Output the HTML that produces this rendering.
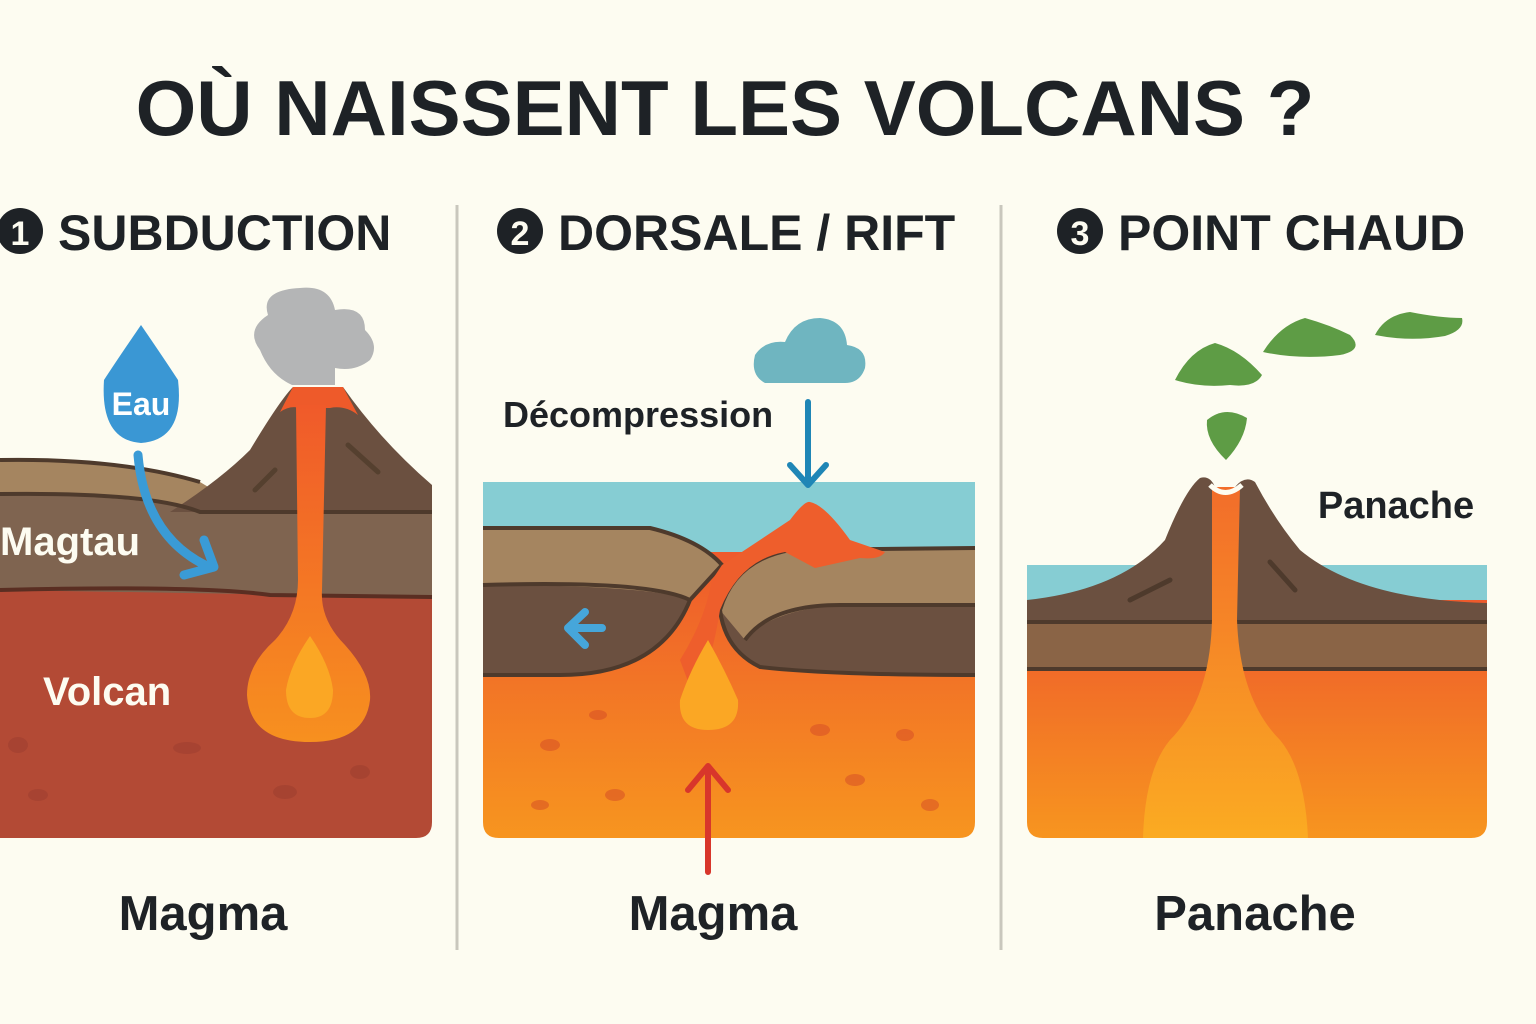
<!DOCTYPE html>
<html><head><meta charset="utf-8"><style>
html,body{margin:0;padding:0;background:#fdfcf1}
svg{display:block}
text{font-family:"Liberation Sans","DejaVu Sans",sans-serif;font-weight:bold}
</style></head><body>
<svg width="1536" height="1024" viewBox="0 0 1536 1024" xmlns="http://www.w3.org/2000/svg">
<defs>
<linearGradient id="og" x1="0" y1="0" x2="0" y2="1"><stop offset="0" stop-color="#ee5a2c"/><stop offset="1" stop-color="#f7951f"/></linearGradient>
<linearGradient id="pl" x1="0" y1="0" x2="0" y2="1"><stop offset="0" stop-color="#f26d2a"/><stop offset="1" stop-color="#fbab22"/></linearGradient>
<linearGradient id="cd" x1="0" y1="0" x2="0" y2="1"><stop offset="0" stop-color="#f05a2a"/><stop offset="1" stop-color="#f7901f"/></linearGradient>
</defs>
<rect width="1536" height="1024" fill="#fdfcf1"/>
<text x="725" y="135" font-size="78" text-anchor="middle" fill="#1e2226">OÙ NAISSENT LES VOLCANS ?</text>
<line x1="457" y1="205" x2="457" y2="950" stroke="#c9c7bd" stroke-width="3"/>
<line x1="1001" y1="205" x2="1001" y2="950" stroke="#c9c7bd" stroke-width="3"/>
<circle cx="20" cy="231" r="23" fill="#1e2226"/><text x="20" y="245" font-size="34" fill="#fdfcf1" text-anchor="middle">1</text>
<text x="58" y="250" font-size="50" fill="#1e2226">SUBDUCTION</text>
<circle cx="520" cy="231" r="23" fill="#1e2226"/><text x="520" y="245" font-size="34" fill="#fdfcf1" text-anchor="middle">2</text>
<text x="558" y="250" font-size="50" fill="#1e2226">DORSALE / RIFT</text>
<circle cx="1080" cy="231" r="23" fill="#1e2226"/><text x="1080" y="245" font-size="34" fill="#fdfcf1" text-anchor="middle">3</text>
<text x="1118" y="250" font-size="50" fill="#1e2226">POINT CHAUD</text>

<path d="M0 590 L432 595 L432 822 Q432 838 416 838 L0 838Z" fill="#b34a35"/>
<path d="M0 494 Q150 492 200 510 L432 512 L432 597 L0 590Z" fill="#7f6450"/>
<path d="M0 460 Q120 458 200 482 L230 500 L200 512 Q150 496 0 494Z" fill="#a58560"/>
<path d="M170 512 Q220 480 250 450 Q280 400 293 387 L343 387 Q380 440 432 485 L432 512Z" fill="#6b5040"/>
<path d="M0 460 Q120 458 200 482" stroke="#4e3a2c" stroke-width="4" fill="none"/>
<path d="M0 494 Q150 492 200 512 L432 512" stroke="#4e3a2c" stroke-width="4" fill="none"/>
<path d="M0 590 Q200 585 270 595 L432 597" stroke="#5a2e22" stroke-width="4" fill="none"/>
<path d="M255 490 L275 470 M348 445 L378 472" stroke="#55402f" stroke-width="5" stroke-linecap="round"/>
<path d="M280 412 L293 387 L343 387 L358 415 Q345 405 330 408 L300 408 Q290 405 280 412Z" fill="#ee5a2a"/>
<path d="M296 405 L326 405 L322 590 Q320 620 345 645 Q372 675 370 700 Q365 742 310 742 Q250 742 247 695 Q247 665 275 640 Q298 615 298 580Z" fill="url(#cd)"/>
<path d="M310 636 Q330 665 333 690 Q333 718 310 718 Q286 718 286 690 Q290 665 310 636Z" fill="#fba724"/>
<g fill="#9f4030" opacity=".6"><ellipse cx="18" cy="745" rx="10" ry="8"/><ellipse cx="187" cy="748" rx="14" ry="6"/><ellipse cx="285" cy="792" rx="12" ry="7"/><ellipse cx="360" cy="772" rx="10" ry="7"/><ellipse cx="38" cy="795" rx="10" ry="6"/></g>
<path d="M292 385 Q270 375 260 350 Q245 330 268 315 Q260 290 300 288 Q330 285 335 310 Q365 305 365 330 Q380 345 370 360 Q355 372 335 368 L335 385Z" fill="#b4b5b6"/>
<path d="M141 325 Q165 360 178 380 Q185 440 141 443 Q100 440 104 380 Q117 360 141 325Z" fill="#3a97d4"/>
<text x="141" y="415" font-size="32" fill="#fff" text-anchor="middle">Eau</text>
<path d="M138 455 Q145 535 205 565" stroke="#3a9bd6" stroke-width="9" fill="none" stroke-linecap="round"/>
<path d="M184 575 L214 567 L204 540" stroke="#3a9bd6" stroke-width="9" fill="none" stroke-linecap="round" stroke-linejoin="round"/>
<text x="0" y="555" font-size="40" fill="#fdfcf1">Magtau</text>
<text x="43" y="705" font-size="40" fill="#fdfcf1">Volcan</text>
<text x="203" y="930" font-size="49" fill="#1e2226" text-anchor="middle">Magma</text>

<rect x="483" y="482" width="492" height="70" fill="#86cdd3"/>
<path d="M483 552 L975 552 L975 822 Q975 838 959 838 L499 838 Q483 838 483 822Z" fill="url(#og)"/>
<path d="M483 528 L650 528 Q700 540 722 565 L690 600 Q660 675 560 675 L483 675Z" fill="#6b5040"/>
<path d="M483 528 L650 528 Q700 540 722 565 L690 600 Q650 585 483 585Z" fill="#a58560"/>
<path d="M975 548 L790 550 Q735 560 720 610 Q725 650 760 667 Q830 675 975 675Z" fill="#6b5040"/>
<path d="M975 548 L790 550 Q735 560 720 610 L745 640 Q770 610 840 605 L975 605Z" fill="#a58560"/>
<path d="M483 528 L650 528 Q700 540 722 565 L690 600 Q660 675 560 675 L483 675 M483 585 Q650 580 690 600" stroke="#4e3a2c" stroke-width="4" fill="none"/>
<path d="M975 548 L790 550 Q735 560 720 610 Q725 650 760 667 Q830 675 975 675 M745 640 Q770 605 840 605 L975 605" stroke="#4e3a2c" stroke-width="4" fill="none"/>
<path d="M722 565 Q760 540 790 520 Q805 500 810 502 Q825 505 850 540 L885 552 Q880 560 860 558 L815 568 L785 552 Q740 560 720 610 Q712 660 700 680 L695 700 L680 660 Q705 620 712 580Z" fill="#ee5e2c"/>
<path d="M708 640 Q725 670 738 700 Q740 730 708 730 Q678 730 680 700 Q690 670 708 640Z" fill="#fba724"/>
<path d="M570 628 L602 628 M568 628 L585 612 M568 628 L585 645" stroke="#46a6da" stroke-width="8" stroke-linecap="round"/>
<g fill="#d44a25" opacity=".5"><ellipse cx="550" cy="745" rx="10" ry="6"/><ellipse cx="598" cy="715" rx="9" ry="5"/><ellipse cx="615" cy="795" rx="10" ry="6"/><ellipse cx="820" cy="730" rx="10" ry="6"/><ellipse cx="905" cy="735" rx="9" ry="6"/><ellipse cx="855" cy="780" rx="10" ry="6"/><ellipse cx="540" cy="805" rx="9" ry="5"/><ellipse cx="930" cy="805" rx="9" ry="6"/></g>
<path d="M808 402 L808 482 M790 465 L808 485 L826 465" stroke="#1f86b6" stroke-width="6" fill="none" stroke-linecap="round" stroke-linejoin="round"/>
<path d="M708 872 L708 768 M688 790 L708 766 L728 790" stroke="#d8362b" stroke-width="6" fill="none" stroke-linecap="round" stroke-linejoin="round"/>
<path d="M765 383 Q750 375 755 355 Q765 340 785 342 Q795 318 820 318 Q845 320 847 345 Q868 348 865 368 Q860 383 845 383Z" fill="#6fb5c0"/>
<text x="503" y="427" font-size="36" fill="#1e2226">Décompression</text>
<text x="713" y="930" font-size="49" fill="#1e2226" text-anchor="middle">Magma</text>

<rect x="1027" y="565" width="460" height="40" fill="#86cdd3"/>
<path d="M1027 600 L1487 600 L1487 822 Q1487 838 1471 838 L1043 838 Q1027 838 1027 822Z" fill="url(#og)"/>
<rect x="1027" y="622" width="460" height="47" fill="#8a6446"/>
<path d="M1027 600 Q1120 590 1165 540 Q1185 490 1200 478 Q1210 475 1215 487 L1235 487 Q1245 475 1255 482 Q1275 520 1300 550 Q1360 600 1487 603 L1487 622 L1027 622Z" fill="#6b5040"/>
<path d="M1027 622 L1487 622 M1027 669 L1487 669" stroke="#4e3a2c" stroke-width="4"/>
<path d="M1130 600 L1170 580 M1270 562 L1295 590" stroke="#4e3a2c" stroke-width="5" stroke-linecap="round"/>
<path d="M1212 487 L1240 487 L1237 620 Q1240 700 1280 740 Q1305 770 1308 838 L1143 838 Q1145 770 1170 740 Q1210 700 1212 620Z" fill="url(#pl)"/>
<path d="M1210 485 Q1225 500 1242 485" stroke="#fdfcf1" stroke-width="5" fill="none"/>
<path d="M1226 460 Q1205 440 1207 420 Q1225 405 1247 418 Q1245 440 1226 460Z" fill="#5e9c45"/>
<path d="M1175 380 Q1190 350 1215 343 Q1240 350 1262 375 Q1255 388 1230 385 Q1200 388 1175 380Z" fill="#5e9c45"/>
<path d="M1263 352 Q1280 325 1305 318 Q1330 325 1350 335 Q1365 350 1340 355 Q1300 360 1263 352Z" fill="#5e9c45"/>
<path d="M1375 335 Q1385 315 1410 312 Q1440 318 1462 318 Q1465 330 1445 336 Q1410 342 1375 335Z" fill="#5e9c45"/>
<text x="1396" y="518" font-size="38" fill="#1e2226" text-anchor="middle">Panache</text>
<text x="1255" y="930" font-size="49" fill="#1e2226" text-anchor="middle">Panache</text>
</svg>
</body></html>
